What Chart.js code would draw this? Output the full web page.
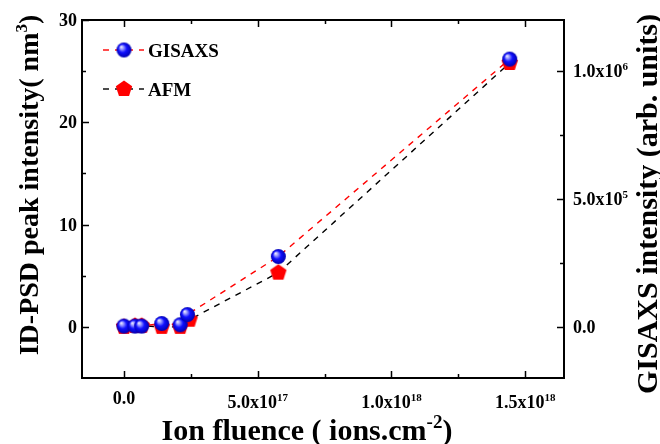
<!DOCTYPE html>
<html>
<head>
<meta charset="utf-8">
<script src="https://cdn.jsdelivr.net/npm/chart.js@4.4.1/dist/chart.umd.min.js"></script>
<style>
  body { margin: 0; background: #fff; }
</style>
</head>
<body>
<canvas id="chart" width="660" height="444"></canvas>
<script>
// values
const gisaxsFluence = [0, 4.1e16, 6.6e16, 1.41e17, 2.1e17, 2.37e17, 5.77e17, 1.442e18];
const gisaxsIntensity = [3e3, 3e3, 3e3, 1.3e4, 8e3, 4.8e4, 2.75e5, 1.047e6];
const afmFluence = [0, 4.1e16, 6.6e16, 1.41e17, 2.1e17, 2.45e17, 5.77e17, 1.442e18];
const afmPeak = [0, 0.1, 0.1, 0, 0, 0.7, 5.3, 25.8];

// ticks
const xTicks = [0, 5e17, 1e18, 1.5e18];
const xMinorTicks = [2.5e17, 7.5e17, 1.25e18];
const leftTicks = [0, 10, 20, 30];
const leftMinorTicks = [5, 15, 25];
const rightTicks = [0, 5e5, 1e6];
const rightMinorTicks = [2.5e5, 7.5e5];

const SERIF = '"Liberation Serif", "Times New Roman", serif';

// blue shaded ball marker
function makeSphere(r) {
  const c = document.createElement('canvas');
  c.width = c.height = 2 * r + 2;
  const g = c.getContext('2d');
  const m = r + 1;
  const grad = g.createRadialGradient(m - r * 0.4, m - r * 0.45, 0, m, m, r);
  grad.addColorStop(0, '#ffffff');
  grad.addColorStop(0.25, '#9a9aff');
  grad.addColorStop(0.55, '#1010ff');
  grad.addColorStop(1, '#0000b0');
  g.fillStyle = grad;
  g.beginPath();
  g.arc(m, m, r, 0, Math.PI * 2);
  g.fill();
  return c;
}

// red pentagon marker
function makePentagon(R) {
  const c = document.createElement('canvas');
  c.width = c.height = Math.ceil(2 * R + 2);
  const g = c.getContext('2d');
  const m = c.width / 2;
  g.fillStyle = '#ff0000';
  g.beginPath();
  for (let i = 0; i < 5; i++) {
    const a = -Math.PI / 2 + i * 2 * Math.PI / 5;
    const px = m + R * Math.cos(a), py = m + R * Math.sin(a);
    if (i === 0) g.moveTo(px, py); else g.lineTo(px, py);
  }
  g.closePath();
  g.fill();
  return c;
}

const sphereImg = makeSphere(7.5);
const pentagonImg = makePentagon(8.6);

// text with superscripts, parts = [{t, sup}]
function richWidth(ctx, parts, size) {
  let w = 0;
  parts.forEach(p => {
    ctx.font = 'bold ' + (p.sup ? Math.round(size * 0.62) : size) + 'px ' + SERIF;
    w += ctx.measureText(p.t).width;
  });
  return w;
}
function drawRich(ctx, parts, x, y, size, align) {
  const w = richWidth(ctx, parts, size);
  let cx = align === 'center' ? x - w / 2 : align === 'right' ? x - w : x;
  ctx.textAlign = 'left';
  ctx.textBaseline = 'alphabetic';
  ctx.fillStyle = '#000';
  parts.forEach(p => {
    const s = p.sup ? Math.round(size * 0.62) : size;
    ctx.font = 'bold ' + s + 'px ' + SERIF;
    ctx.fillText(p.t, cx, p.sup ? y - size * 0.4 : y);
    cx += ctx.measureText(p.t).width;
  });
}
function sciParts(v) {
  if (v === 0) return [{ t: '0.0' }];
  const e = Math.floor(Math.log10(v) + 1e-9);
  const m = v / Math.pow(10, e);
  return [{ t: m.toFixed(1) + 'x10' }, { t: String(e), sup: true }];
}

const framePlugin = {
  id: 'frame',
  beforeDraw(chart) {
    const ctx = chart.ctx;
    ctx.save();
    ctx.fillStyle = '#fff';
    ctx.fillRect(0, 0, chart.width, chart.height);
    ctx.restore();
  },
  afterDraw(chart) {
    const ctx = chart.ctx;
    const a = chart.chartArea;
    const sx = chart.scales.x, sy = chart.scales.y, sy2 = chart.scales.y2;
    ctx.save();
    ctx.strokeStyle = '#000';
    ctx.lineWidth = 2;
    ctx.strokeRect(a.left, a.top, a.right - a.left, a.bottom - a.top);

    // inward ticks
    ctx.lineWidth = 1.5;
    ctx.beginPath();
    const tick = (x1, y1, x2, y2) => { ctx.moveTo(x1, y1); ctx.lineTo(x2, y2); };
    xTicks.forEach(v => { const p = Math.round(sx.getPixelForValue(v)) + 0.5;
      tick(p, a.bottom, p, a.bottom - 7); tick(p, a.top, p, a.top + 7); });
    xMinorTicks.forEach(v => { const p = Math.round(sx.getPixelForValue(v)) + 0.5;
      tick(p, a.bottom, p, a.bottom - 4); tick(p, a.top, p, a.top + 4); });
    leftTicks.forEach(v => { const p = Math.round(sy.getPixelForValue(v)) + 0.5; tick(a.left, p, a.left + 7, p); });
    leftMinorTicks.forEach(v => { const p = Math.round(sy.getPixelForValue(v)) + 0.5; tick(a.left, p, a.left + 4, p); });
    rightTicks.forEach(v => { const p = Math.round(sy2.getPixelForValue(v)) + 0.5; tick(a.right, p, a.right - 7, p); });
    rightMinorTicks.forEach(v => { const p = Math.round(sy2.getPixelForValue(v)) + 0.5; tick(a.right, p, a.right - 4, p); });
    ctx.stroke();

    // tick labels
    xTicks.forEach(v => {
      const parts = sciParts(v);
      drawRich(ctx, parts, sx.getPixelForValue(v), a.bottom + (parts.length > 1 ? 30 : 26), 18, 'center');
    });
    leftTicks.forEach(v => {
      drawRich(ctx, [{ t: String(v) }], a.left - 5, sy.getPixelForValue(v) + 6, 18, 'right');
    });
    rightTicks.forEach(v => {
      drawRich(ctx, sciParts(v), a.right + 9, sy2.getPixelForValue(v) + 6, 18, 'left');
    });

    // axis titles
    drawRich(ctx, [{ t: 'Ion fluence ( ions.cm' }, { t: '-2', sup: true }, { t: ')' }], 307, 440, 30, 'center');
    ctx.save();
    ctx.translate(38, 185);
    ctx.rotate(-Math.PI / 2);
    drawRich(ctx, [{ t: 'ID-PSD peak intensity( nm' }, { t: '3', sup: true }, { t: ')' }], 0, 0, 28, 'center');
    ctx.restore();
    ctx.save();
    ctx.translate(657, 204);
    ctx.rotate(-Math.PI / 2);
    drawRich(ctx, [{ t: 'GISAXS intensity (arb. units)' }], 0, 0, 30, 'center');
    ctx.restore();

    // legend in the upper left of the plot
    chart.data.datasets.forEach((ds, i) => {
      const yRow = a.top + 30 + i * 39;
      ctx.save();
      ctx.strokeStyle = ds.borderColor;
      ctx.lineWidth = ds.borderWidth;
      ctx.setLineDash(ds.borderDash);
      ctx.beginPath();
      ctx.moveTo(a.left + 21, yRow);
      ctx.lineTo(a.left + 62, yRow);
      ctx.stroke();
      ctx.restore();
      const img = ds.pointStyle;
      ctx.drawImage(img, a.left + 42 - img.width / 2, yRow - img.height / 2);
      drawRich(ctx, [{ t: ds.label }], a.left + 66, yRow + 6.5, 19, 'left');
    });
    ctx.restore();
  }
};

new Chart(document.getElementById('chart'), {
  type: 'line',
  data: {
    datasets: [{
      label: 'GISAXS',
      data: gisaxsFluence.map((x, i) => ({ x: x, y: gisaxsIntensity[i] })),
      yAxisID: 'y2',
      borderColor: '#ff0000',
      borderWidth: 1.4,
      borderDash: [6, 6],
      pointStyle: sphereImg,
      pointRadius: 7,
      tension: 0
    }, {
      label: 'AFM',
      data: afmFluence.map((x, i) => ({ x: x, y: afmPeak[i] })),
      yAxisID: 'y',
      borderColor: '#000000',
      borderWidth: 1.4,
      borderDash: [6, 6],
      pointStyle: pentagonImg,
      pointRadius: 7,
      tension: 0
    }]
  },
  options: {
    responsive: false,
    animation: false,
    layout: { padding: { top: 20, left: 0, right: 0, bottom: 0 } },
    plugins: { legend: { display: false }, tooltip: { enabled: false } },
    scales: {
      x: {
        type: 'linear', min: -1.57e17, max: 1.645e18,
        grid: { display: false }, border: { display: false }, ticks: { display: false },
        afterBuildTicks: s => { s.ticks = xTicks.map(v => ({ value: v })); },
        afterFit: s => { s.height = 66; }
      },
      y: {
        position: 'left', min: -5, max: 30,
        grid: { display: false }, border: { display: false }, ticks: { display: false },
        afterBuildTicks: s => { s.ticks = leftTicks.map(v => ({ value: v })); },
        afterFit: s => { s.width = 82; }
      },
      y2: {
        position: 'right', min: -2e5, max: 1.2e6,
        grid: { display: false }, border: { display: false }, ticks: { display: false },
        afterBuildTicks: s => { s.ticks = rightTicks.map(v => ({ value: v })); },
        afterFit: s => { s.width = 96; }
      }
    }
  },
  plugins: [framePlugin]
});
</script>
</body>
</html>
